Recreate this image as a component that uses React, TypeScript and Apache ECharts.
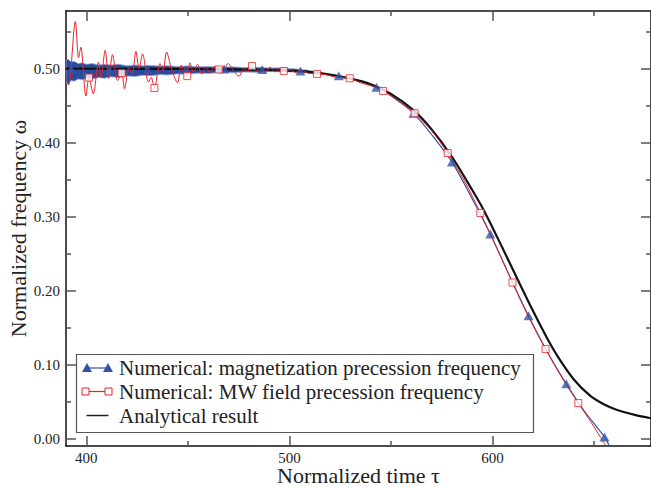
import React, { useEffect, useRef } from "react";
import * as echarts from "echarts";

// Axis ticks
const xMajorTicks = [400, 500, 600];
const xMinorTicks = [450, 550, 650];
const yMajorTicks = [0, 0.1, 0.2, 0.3, 0.4, 0.5];
const yMinorTicks = [0.05, 0.15, 0.25, 0.35, 0.45, 0.55];

// Noise band of the magnetization precession frequency (envelopes)
const bandTau = [390, 391, 392.5, 394, 396, 398, 400, 403, 406, 409, 412, 416, 420, 424, 428, 432, 436, 440, 445, 450, 455, 460, 466, 472, 478, 484, 490, 496, 502, 508, 514];
const bandUpper = [0.511, 0.513, 0.509, 0.51, 0.507, 0.508, 0.506, 0.507, 0.505, 0.506, 0.505, 0.506, 0.504, 0.505, 0.504, 0.5045, 0.5035, 0.504, 0.503, 0.5035, 0.5025, 0.503, 0.502, 0.5025, 0.5015, 0.502, 0.501, 0.5012, 0.5, 0.4985, 0.4955];
const bandLower = [0.482, 0.479, 0.484, 0.483, 0.486, 0.485, 0.487, 0.486, 0.488, 0.487, 0.489, 0.488, 0.49, 0.4895, 0.491, 0.4905, 0.492, 0.4915, 0.493, 0.4925, 0.494, 0.4935, 0.495, 0.4945, 0.4955, 0.495, 0.496, 0.4958, 0.4955, 0.4945, 0.4925];

// Numerical: magnetization precession frequency (smooth part)
const magTau = [390, 410, 430, 450, 470, 490, 505.4, 515, 524.3, 533, 542.8, 552, 561.1, 570, 580, 590, 598.9, 608, 617.7, 627, 636.3, 645, 655.1, 657.5];
const magOmega = [0.4985, 0.4985, 0.499, 0.4988, 0.499, 0.4985, 0.497, 0.494, 0.4905, 0.485, 0.475, 0.46, 0.4397, 0.411, 0.374, 0.324, 0.2766, 0.222, 0.166, 0.117, 0.074, 0.038, 0.002, -0.01];
const magMarkTau = [392.6, 411.4, 430.2, 449, 467.8, 486.6, 505.4, 524.3, 542.8, 561.1, 580.0, 598.9, 617.7, 636.3, 655.1];
const magMarkOmega = [0.499, 0.499, 0.499, 0.499, 0.4995, 0.499, 0.497, 0.4905, 0.475, 0.4397, 0.374, 0.2766, 0.166, 0.074, 0.002];

// Numerical: MW field precession frequency
const mwTau = [390.3, 391.3, 394.6, 396.2, 397.3, 399.8, 401.3, 403.4, 406.0, 407.2, 409.3, 411.0, 412.9, 415.4, 417.4, 418.8, 421.0, 422.6, 424.4, 426.0, 427.7, 430.6, 432.0, 433.5, 436.3, 437.8, 439.5, 442.0, 444.9, 446.7, 448.2, 449.7, 451.0, 452.8, 454.8, 456.8, 459.0, 461.0, 463.0, 465.2, 467.0, 469.8, 472.5, 475.2, 477.5, 479.5, 481.6, 484.0, 486.0, 488.0, 490.5, 493.0, 495.0, 497.2, 500.0, 503.0, 506.0, 509.0, 513.6, 518.0, 522.0, 526.0, 529.7, 535.0, 540.0, 546.1, 553.0, 561.6, 570.0, 577.9, 586.0, 594.0, 602.0, 609.8, 618.0, 626.1, 634.0, 642.2, 649.0, 655.8];
const mwOmega = [0.4865, 0.478, 0.564, 0.515, 0.529, 0.463, 0.488, 0.466, 0.509, 0.488, 0.525, 0.487, 0.519, 0.484, 0.494, 0.473, 0.502, 0.493, 0.5235, 0.5, 0.52, 0.482, 0.488, 0.474, 0.507, 0.497, 0.5226, 0.499, 0.481, 0.505, 0.494, 0.49, 0.508, 0.495, 0.506, 0.493, 0.502, 0.494, 0.503, 0.499, 0.496, 0.507, 0.497, 0.49, 0.5, 0.497, 0.5036, 0.497, 0.502, 0.495, 0.502, 0.496, 0.5, 0.497, 0.499, 0.495, 0.498, 0.494, 0.493, 0.492, 0.489, 0.488, 0.487, 0.481, 0.477, 0.47, 0.457, 0.4397, 0.416, 0.386, 0.349, 0.305, 0.258, 0.211, 0.163, 0.121, 0.083, 0.048, 0.02, -0.01];
const mwMarkTau = [401.3, 417.4, 433.5, 449.7, 465.2, 481.6, 497.2, 513.6, 529.7, 546.1, 561.6, 577.9, 594.0, 609.8, 626.1, 642.2];
const mwMarkOmega = [0.488, 0.494, 0.474, 0.49, 0.499, 0.5036, 0.497, 0.493, 0.487, 0.47, 0.4397, 0.386, 0.305, 0.211, 0.121, 0.048];

// Analytical result
const anaTau = [390, 420, 450, 480, 500, 515, 530, 540, 550, 561, 570, 580, 590, 596, 605, 612, 620, 627, 633, 640, 648, 655, 661, 670, 678];
const anaOmega = [0.5, 0.4999, 0.4996, 0.4988, 0.4975, 0.494, 0.4865, 0.479, 0.466, 0.444, 0.418, 0.381, 0.336, 0.307, 0.257, 0.217, 0.172, 0.135, 0.107, 0.08, 0.058, 0.046, 0.039, 0.032, 0.0275];

const legendLabels = [
  "Numerical: magnetization precession frequency",
  "Numerical: MW field precession frequency",
  "Analytical result",
];

const FONT = "Liberation Serif";
const BLUE = "#3553a6";
const RED = "#e8232b";
const BLACK = "#111111";
const X_MIN = 390;
const X_MAX = 678;
const Y_MIN = -0.01;
const Y_MAX = 0.578;

const zip = (a: number[], b: number[]) => a.map((v, i) => [v, b[i]]);

function xAxisDef(position: string, ticks: number[], len: number, labels: boolean, line: boolean, extra: any = {}) {
  return {
    type: "value",
    position,
    min: X_MIN,
    max: X_MAX,
    splitLine: { show: false },
    axisLine: { show: line, onZero: false, lineStyle: { color: BLACK, width: 1.5 } },
    axisTick: { show: true, inside: true, length: len, customValues: ticks, lineStyle: { color: "#555", width: 1.5 } },
    axisLabel: labels
      ? { show: true, customValues: ticks, margin: 4, fontSize: 15, lineHeight: 15, color: "#222", fontFamily: FONT }
      : { show: false },
    ...extra,
  };
}

function yAxisDef(position: string, ticks: number[], len: number, labels: boolean, line: boolean, extra: any = {}) {
  return {
    type: "value",
    position,
    min: Y_MIN,
    max: Y_MAX,
    splitLine: { show: false },
    axisLine: { show: line, onZero: false, lineStyle: { color: BLACK, width: 1.5 } },
    axisTick: { show: true, inside: true, length: len, customValues: ticks, lineStyle: { color: "#555", width: 1.5 } },
    axisLabel: labels
      ? { show: true, customValues: ticks, margin: 6, fontSize: 15, color: "#222", fontFamily: FONT, formatter: (v: number) => v.toFixed(2) }
      : { show: false },
    ...extra,
  };
}

function legendGraphic() {
  const boxX = 76.5, boxY = 354.5, boxW = 457, boxH = 78;
  const rows = [368, 391.5, 415.5];
  const textX = 119;
  const tri = (cx: number, cy: number) => ({
    type: "polygon",
    shape: { points: [[cx - 5, cy + 4], [cx + 5, cy + 4], [cx, cy - 5]] },
    style: { fill: BLUE },
  });
  const sq = (cx: number, cy: number) => ({
    type: "rect",
    shape: { x: cx - 3.5, y: cy - 3.5, width: 7, height: 7 },
    style: { fill: "#fff", stroke: RED, lineWidth: 1 },
  });
  const text = (y: number, s: string) => ({
    type: "text",
    x: textX,
    y,
    style: { text: s, fill: "#222", fontSize: 21, fontFamily: FONT, verticalAlign: "middle" },
  });
  return [
    { type: "rect", shape: { x: boxX, y: boxY, width: boxW, height: boxH }, style: { fill: "#fff", stroke: "#555", lineWidth: 1.2 }, z: 100 },
    { type: "line", shape: { x1: 87, y1: rows[0], x2: 108, y2: rows[0] }, style: { stroke: BLUE, lineWidth: 1.2 }, z: 101 },
    { ...tri(87, rows[0]), z: 102 },
    { ...tri(108, rows[0]), z: 102 },
    { type: "line", shape: { x1: 85.5, y1: rows[1], x2: 108.5, y2: rows[1] }, style: { stroke: RED, lineWidth: 1.2 }, z: 101 },
    { ...sq(85.5, rows[1]), z: 102 },
    { ...sq(108.5, rows[1]), z: 102 },
    { type: "line", shape: { x1: 86.5, y1: rows[2], x2: 108.5, y2: rows[2] }, style: { stroke: "#222", lineWidth: 1.5 }, z: 101 },
    { ...text(rows[0], legendLabels[0]), z: 102 },
    { ...text(rows[1], legendLabels[1]), z: 102 },
    { ...text(rows[2], legendLabels[2]), z: 102 },
  ];
}

export default function App() {
  const ref = useRef<HTMLDivElement>(null);
  useEffect(() => {
    if (!ref.current) return;
    const chart = echarts.init(ref.current, undefined, { renderer: "svg" });
    const option: any = {
      animation: false,
      backgroundColor: "#fff",
      textStyle: { fontFamily: FONT },
      grid: { left: 66, right: 0, top: 11, bottom: 41, containLabel: false, outerBoundsMode: "none" },
      xAxis: [
        xAxisDef("bottom", xMajorTicks, 10, true, true, {
          name: "Normalized time τ",
          nameLocation: "middle",
          nameMoveOverlap: false,
          nameGap: 19.5,
          nameTextStyle: { fontSize: 22, lineHeight: 20, color: "#222", fontFamily: FONT },
        }),
        xAxisDef("bottom", xMinorTicks, 5, false, false),
        xAxisDef("top", xMajorTicks, 10, false, true),
        xAxisDef("top", xMinorTicks, 5, false, false),
      ],
      yAxis: [
        yAxisDef("left", yMajorTicks, 10, true, true, {
          name: "Normalized frequency ω",
          nameLocation: "middle",
          nameMoveOverlap: false,
          nameGap: 37,
          nameTextStyle: { fontSize: 22, lineHeight: 22, color: "#222", fontFamily: FONT },
        }),
        yAxisDef("left", yMinorTicks, 5, false, false),
        yAxisDef("right", yMajorTicks, 10, false, true),
        yAxisDef("right", yMinorTicks, 5, false, false),
      ],
      series: [
        {
          type: "custom",
          name: "band",
          clip: true,
          z: 1,
          data: [[bandTau[0], bandUpper[0]]],
          renderItem: (params: any, api: any) => {
            const pts: number[][] = [];
            for (let i = 0; i < bandTau.length; i++) pts.push(api.coord([bandTau[i], bandUpper[i]]));
            for (let i = bandTau.length - 1; i >= 0; i--) pts.push(api.coord([bandTau[i], bandLower[i]]));
            return {
              type: "polygon",
              shape: { points: pts },
              style: { fill: "#2a4a9c", stroke: "#9aaedb", lineWidth: 0.8 },
            };
          },
        },
        {
          type: "line",
          name: legendLabels[0],
          data: zip(magTau, magOmega),
          smooth: 0.3,
          symbol: "none",
          lineStyle: { color: BLUE, width: 1.2 },
          z: 2,
        },
        {
          type: "line",
          name: legendLabels[2],
          data: zip(anaTau, anaOmega),
          smooth: 0.3,
          symbol: "none",
          lineStyle: { color: BLACK, width: 2.2 },
          z: 3,
        },
        {
          type: "line",
          name: legendLabels[1],
          data: zip(mwTau, mwOmega),
          smooth: 0.3,
          symbol: "none",
          lineStyle: { color: RED, width: 1 },
          z: 4,
        },
        {
          type: "scatter",
          name: "magMarks",
          data: zip(magMarkTau, magMarkOmega),
          symbol: "triangle",
          symbolSize: [10, 9],
          itemStyle: { color: BLUE },
          z: 5,
        },
        {
          type: "scatter",
          name: "mwMarks",
          data: zip(mwMarkTau, mwMarkOmega),
          symbol: "rect",
          symbolSize: 7,
          itemStyle: { color: "#fff", borderColor: RED, borderWidth: 1 },
          z: 6,
        },
      ],
      graphic: legendGraphic(),
    };
    chart.setOption(option);
    return () => chart.dispose();
  }, []);
  return (
    <div
      ref={ref}
      style={{ position: "fixed", left: 0, top: 0, width: 651, height: 487, background: "#fff" }}
    />
  );
}
